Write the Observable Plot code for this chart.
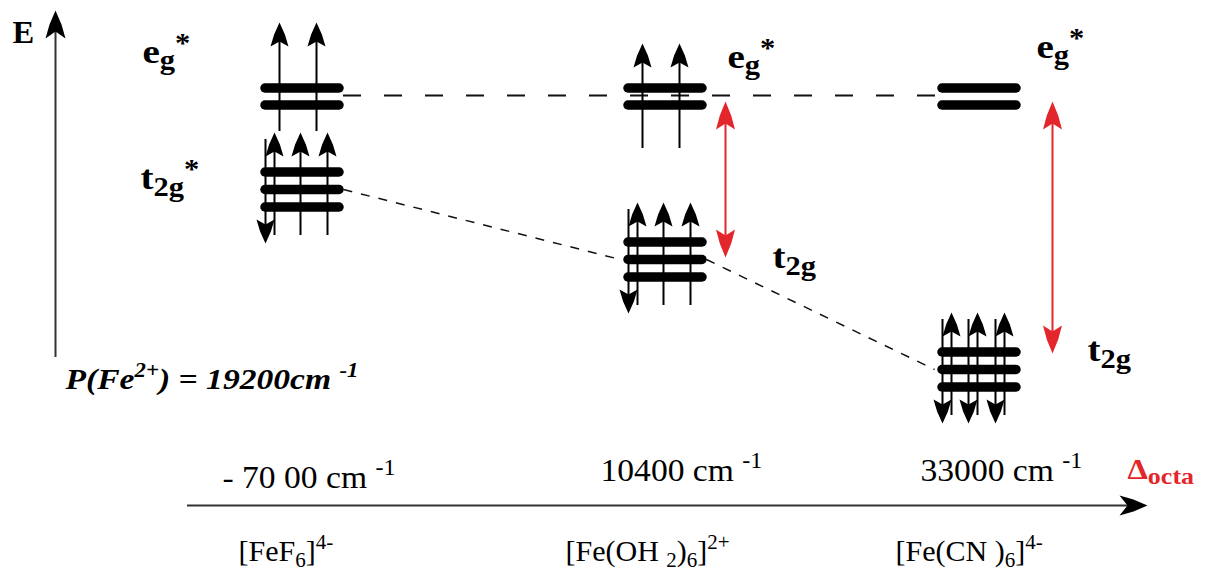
<!DOCTYPE html>
<html>
<head>
<meta charset="utf-8">
<script src="https://cdn.jsdelivr.net/npm/d3@7"></script>
<script src="https://cdn.jsdelivr.net/npm/@observablehq/plot@0.6"></script>
<style>
  html, body { margin: 0; padding: 0; background: #fff; overflow: hidden; }
  #chart svg { display: block; background: #fff; }
</style>
</head>
<body>
<div id="chart"></div>
<script>
// ================= DATA =================
// Complexes of Fe(2+) along the Δoct axis (markup: _{sub}, ^{sup})
const complexes   = ["[FeF_{6}]^{4-}", "[Fe(OH _{2})_{6}]^{2+}", "[Fe(CN )_{6}]^{4-}"];
const deltaOcta   = ["- 70 00 cm ^{-1}", "10400 cm ^{-1}", "33000 cm ^{-1}"];
const egLabels    = ["e_{g}^{*}", "e_{g}^{*}", "e_{g}^{*}"];
const t2gLabels   = ["t_{2g}^{*}", "t_{2g}", "t_{2g}"];
// energies of the orbital sets (arbitrary diagram energy units, up = higher)
const egEnergy    = [475, 475, 475];
const t2gEnergy   = [382, 312, 202];
// electron occupation (d6)
const egUp        = [2, 2, 0];
const t2gUp       = [3, 3, 3];
const t2gDown     = [1, 1, 3];
const showSplitting = [false, true, true];
const pairingLabel  = "P(Fe^{2+}) = 19200cm ^{-1}";
const energyAxisLabel = "E";
const splittingAxisLabel = "Δ_{octa}";

// ================= LAYOUT (diagram units) =================
const W = 1209, H = 571;
const colX = [302, 665, 979];
const barHalf = 37, egSep = 17, t2gSep = 17.5;
const egArrowDx = [-23, 14];
const egArrowTop = [74, 53, 0], egArrowBottom = [35, 52, 0];
const t2gUpDx = [-28, -2, 25], downShift = -9;
const t2gUpTop = 57, t2gUpBottom = 46, t2gDownTop = 50, t2gDownTip = 54;
const splitDx = [0, 60, 73], splitTop = 5, splitBottom = [0, 2, 16];
const egLabelX = [142, 727, 1036], egLabelY = [509, 504, 514];
const t2gLabelX = [140, 772, 1087], t2gLabelY = [383, 304, 211];
const deltaLabelX = [222, 600, 920], deltaLabelY = [84, 91, 91];
const complexLabelX = [238, 565, 895], complexLabelY = 11;
const eAxis = {x: 55, y1: 214, y2: 545, tip: 561};
const dAxis = {y: 66, x1: 187, x2: 1130, tip: 1147};

// arrowhead symbols (tip at the dot position)
function stealth(w, h, n, dir) {
  const pts = [[0, 0], [w * 0.6, h * 0.5], [w, h], [0, n], [-w, h], [-w * 0.6, h * 0.5]];
  const tf = dir === "up" ? ([a, b]) => [a, b]
           : dir === "down" ? ([a, b]) => [a, -b]
           : ([a, b]) => [-b, a]; // right
  return {
    draw(ctx) {
      pts.map(tf).forEach(([a, b], i) => i ? ctx.lineTo(a, b) : ctx.moveTo(a, b));
      ctx.closePath();
    }
  };
}
const headUp = stealth(9, 24, 19, "up");
const headDown = stealth(9, 24, 19, "down");
const redUp = stealth(9.5, 28, 22, "up");
const redDown = stealth(9.5, 28, 22, "down");
const axisUp = stealth(10, 28, 21, "up");
const axisRight = stealth(10, 28, 20, "right");

// ================= DERIVED RECORDS =================
const bars = [];
colX.forEach((cx, i) => {
  [-0.5, 0.5].forEach(o => bars.push({x1: cx - barHalf, x2: cx + barHalf, y: egEnergy[i] + o * egSep}));
  [-1, 0, 1].forEach(o => bars.push({x1: cx - barHalf, x2: cx + barHalf, y: t2gEnergy[i] + o * t2gSep}));
});

const eLines = [], upHeads = [], downHeads = [];
colX.forEach((cx, i) => {
  for (let k = 0; k < egUp[i]; k++) {
    const x = cx + egArrowDx[k], tip = egEnergy[i] + egArrowTop[i];
    eLines.push({x, y1: egEnergy[i] - egArrowBottom[i], y2: tip - 14});
    upHeads.push({x, y: tip});
  }
  for (let k = 0; k < t2gUp[i]; k++) {
    const x = cx + t2gUpDx[k], tip = t2gEnergy[i] + t2gUpTop;
    eLines.push({x, y1: t2gEnergy[i] - t2gUpBottom, y2: tip - 14});
    upHeads.push({x, y: tip});
  }
  for (let k = 0; k < t2gDown[i]; k++) {
    const x = cx + t2gUpDx[k] + downShift, tip = t2gEnergy[i] - t2gDownTip;
    eLines.push({x, y1: t2gEnergy[i] + t2gDownTop, y2: tip + 14});
    downHeads.push({x, y: tip});
  }
});

const splitLines = [], splitUpHeads = [], splitDownHeads = [];
colX.forEach((cx, i) => {
  if (!showSplitting[i]) return;
  const x = cx + splitDx[i];
  const top = egEnergy[i] - splitTop, bottom = t2gEnergy[i] + splitBottom[i];
  splitLines.push({x, y1: bottom + 16, y2: top - 16});
  splitUpHeads.push({x, y: top});
  splitDownHeads.push({x, y: bottom});
});

const egDash = [{x1: colX[0] + barHalf + 4, x2: colX[2] - barHalf - 4, y: egEnergy[0] + 1}];
const t2gDash = [0, 1].map(i => ({
  x1: colX[i] + barHalf + 4, y1: t2gEnergy[i],
  x2: colX[i + 1] - barHalf - 8, y2: t2gEnergy[i + 1]
}));

const orbitalText = [
  ...egLabels.map((t, i) => ({x: egLabelX[i], y: egLabelY[i], t})),
  ...t2gLabels.map((t, i) => ({x: t2gLabelX[i], y: t2gLabelY[i], t}))
];
const deltaText = deltaOcta.map((t, i) => ({x: deltaLabelX[i], y: deltaLabelY[i], t}));
const complexText = complexes.map((t, i) => ({x: complexLabelX[i], y: complexLabelY, t}));

// typographic settings per label (horizontal stretch, script scale/shift in em)
const typo = new Map();
egLabels.forEach(t => typo.set(t, {sx: 1.15, scale: 0.78, sub: 0.18, sup: -0.3}));
t2gLabels.forEach(t => typo.set(t, {sx: 1.15, scale: 0.78, sub: 0.22, sup: -0.3}));
typo.set(pairingLabel, {sx: 1.12, scale: 0.68, sub: 0.2, sup: -0.38});
deltaOcta.forEach(t => typo.set(t, {sx: 1.05, scale: 0.72, sub: 0.2, sup: -0.4}));
complexes.forEach(t => typo.set(t, {sx: 1, scale: 0.7, sub: 0.2, sup: -0.4}));
typo.set(splittingAxisLabel, {sx: 1.12, scale: 0.8, sub: 0.2, sup: -0.4});
typo.set(energyAxisLabel, {sx: 1.05, scale: 0.7, sub: 0.2, sup: -0.4});

const serif = "'Liberation Serif', 'Times New Roman', serif";
const red = "#e3262b";
const txt = {x: "x", y: "y", text: "t", textAnchor: "start", lineAnchor: "bottom", fontFamily: serif};

const svg = Plot.plot({
  width: W, height: H,
  marginTop: 0, marginRight: 0, marginBottom: 0, marginLeft: 0,
  x: {domain: [0, W], range: [0, W], axis: null},
  y: {domain: [0, H], range: [H, 0], axis: null},
  marks: [
    // correlation dashed lines
    Plot.ruleY(egDash, {y: "y", x1: "x1", x2: "x2", stroke: "#111", strokeWidth: 1.8, strokeDasharray: "18,23"}),
    Plot.link(t2gDash, {x1: "x1", y1: "y1", x2: "x2", y2: "y2", stroke: "#111", strokeWidth: 1.5, strokeDasharray: "9,9"}),
    // orbital levels
    Plot.ruleY(bars, {y: "y", x1: "x1", x2: "x2", stroke: "#000", strokeWidth: 9.5, strokeLinecap: "round"}),
    // electrons
    Plot.ruleX(eLines, {x: "x", y1: "y1", y2: "y2", stroke: "#000", strokeWidth: 2}),
    Plot.dot(upHeads, {x: "x", y: "y", symbol: headUp, fill: "#000", stroke: "none"}),
    Plot.dot(downHeads, {x: "x", y: "y", symbol: headDown, fill: "#000", stroke: "none"}),
    // splitting arrows
    Plot.ruleX(splitLines, {x: "x", y1: "y1", y2: "y2", stroke: red, strokeWidth: 2}),
    Plot.dot(splitUpHeads, {x: "x", y: "y", symbol: redUp, fill: red, stroke: "none"}),
    Plot.dot(splitDownHeads, {x: "x", y: "y", symbol: redDown, fill: red, stroke: "none"}),
    // energy axis
    Plot.ruleX([eAxis], {x: "x", y1: "y1", y2: "y2", stroke: "#333", strokeWidth: 2}),
    Plot.dot([eAxis], {x: "x", y: "tip", symbol: axisUp, fill: "#000", stroke: "none"}),
    // Δoct axis
    Plot.ruleY([dAxis], {y: "y", x1: "x1", x2: "x2", stroke: "#333", strokeWidth: 2}),
    Plot.dot([dAxis], {x: "tip", y: "y", symbol: axisRight, fill: "#000", stroke: "none"}),
    // texts
    Plot.text([{x: 12, y: 529, t: energyAxisLabel}], {...txt, fontWeight: "bold", fontSize: 31, fill: "#000"}),
    Plot.text(orbitalText, {...txt, fontWeight: "bold", fontSize: 34, fill: "#000"}),
    Plot.text([{x: 65, y: 183, t: pairingLabel}], {...txt, fontWeight: "bold", fontStyle: "italic", fontSize: 30, fill: "#000"}),
    Plot.text(deltaText, {...txt, fontSize: 32, fill: "#000"}),
    Plot.text(complexText, {...txt, fontSize: 30, fill: "#000"}),
    Plot.text([{x: 1127, y: 93, t: splittingAxisLabel}], {...txt, fontWeight: "bold", fontSize: 29, fill: red})
  ]
});

document.getElementById("chart").appendChild(svg);

// convert _{..} and ^{..} markup into real sub/superscript tspans
function parseMarkup(s) {
  const out = []; let buf = ""; let i = 0;
  while (i < s.length) {
    if ((s[i] === "_" || s[i] === "^") && s[i + 1] === "{") {
      if (buf) out.push({t: buf, k: 0});
      buf = "";
      const j = s.indexOf("}", i);
      out.push({t: s.slice(i + 2, j), k: s[i] === "_" ? 1 : -1});
      i = j + 1;
    } else buf += s[i++];
  }
  if (buf) out.push({t: buf, k: 0});
  return out;
}
svg.querySelectorAll("text").forEach(el => {
  const s = el.textContent;
  const st = typo.get(s) || {sx: 1, scale: 0.7, sub: 0.2, sup: -0.4};
  if (st.sx !== 1) {
    const tr = el.getAttribute("transform") || "";
    el.setAttribute("transform", `${tr} scale(${st.sx},1)`);
  }
  if (!/[_^]\{/.test(s)) return;
  const fs = parseFloat(getComputedStyle(el).fontSize) || 30;
  const segs = parseMarkup(s);
  el.textContent = "";
  let cur = 0;
  segs.forEach(seg => {
    const ts = document.createElementNS("http://www.w3.org/2000/svg", "tspan");
    const target = seg.k === 1 ? st.sub * fs : seg.k === -1 ? st.sup * fs : 0;
    const d = target - cur;
    if (d) ts.setAttribute("dy", d.toFixed(2));
    cur = target;
    if (seg.k) ts.setAttribute("font-size", (fs * st.scale).toFixed(1));
    ts.textContent = seg.t;
    el.appendChild(ts);
  });
});
</script>
</body>
</html>
